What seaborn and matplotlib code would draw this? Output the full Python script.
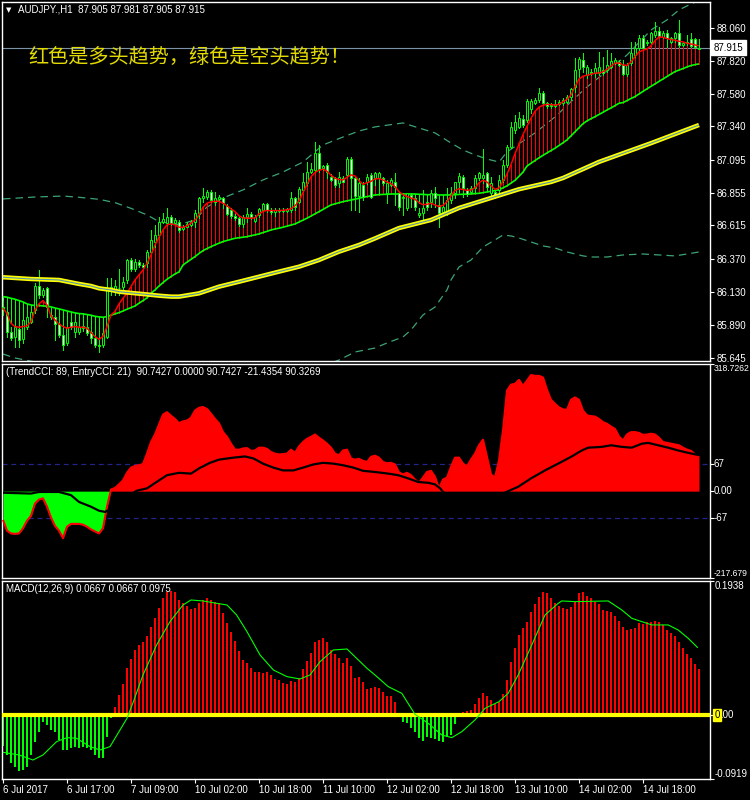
import numpy as np
import pandas as pd
import seaborn as sns
import matplotlib.pyplot as plt
from matplotlib.transforms import blended_transform_factory

# ---------------- AUDJPY H1 candles (bar 0 = 6 Jul 2017 01:00) ----------------
opens = [
    86.020, 85.985, 85.838, 85.802, 85.855, 85.782, 85.875, 85.911, 85.997, 86.172,
    86.107, 86.155, 85.960, 85.943, 85.894, 85.814, 85.753, 85.911, 85.838, 85.838,
    85.882, 85.875, 85.838, 85.789, 85.741, 85.741, 85.802, 86.143, 86.143, 86.160,
    86.168, 86.216, 86.363, 86.294, 86.350, 86.326, 86.338, 86.424, 86.497, 86.546,
    86.643, 86.636, 86.680, 86.631, 86.643, 86.587, 86.607, 86.619, 86.643, 86.704,
    86.814, 86.826, 86.863, 86.790, 86.810, 86.814, 86.760, 86.729, 86.685, 86.673,
    86.626, 86.675, 86.697, 86.651, 86.692, 86.729, 86.773, 86.729, 86.716, 86.720,
    86.729, 86.720, 86.729, 86.814, 86.790, 86.875, 86.924, 87.009, 87.021, 87.143,
    87.033, 87.058, 86.972, 86.960, 86.924, 86.965, 86.985, 87.099, 86.960, 86.830,
    86.911, 86.936, 86.984, 86.960, 86.960, 86.960, 86.850, 86.911, 86.936, 86.850,
    86.814, 86.740, 86.838, 86.814, 86.690, 86.704, 86.789, 86.789, 86.850, 86.765,
    86.716, 86.716, 86.801, 86.850, 86.936, 86.972, 86.875, 86.862, 86.887, 86.960,
    86.960, 86.997, 86.850, 86.862, 86.875, 86.948, 87.058, 87.192, 87.314, 87.338,
    87.392, 87.387, 87.470, 87.509, 87.534, 87.582, 87.509, 87.497, 87.490, 87.504,
    87.509, 87.521, 87.553, 87.631, 87.758, 87.826, 87.716, 87.741, 87.729, 87.729,
    87.753, 87.753, 87.773, 87.802, 87.814, 87.790, 87.724, 87.802, 87.863, 87.912,
    87.985, 87.948, 87.960, 88.009, 88.041, 87.997, 88.026, 87.960, 87.985, 88.021,
    87.936, 87.948, 87.977, 87.977, 87.905]
highs = [
    86.060, 85.997, 85.875, 85.899, 85.875, 85.948, 85.960, 86.000, 86.192, 86.289,
    86.160, 86.168, 85.990, 85.985, 85.924, 85.875, 85.899, 85.930, 85.924, 85.890,
    85.900, 85.890, 85.863, 85.800, 85.777, 85.863, 86.229, 86.229, 86.216, 86.294,
    86.241, 86.370, 86.380, 86.370, 86.360, 86.340, 86.436, 86.582, 86.619, 86.680,
    86.704, 86.741, 86.692, 86.670, 86.655, 86.620, 86.640, 86.655, 86.729, 86.826,
    86.887, 86.875, 86.875, 86.863, 86.840, 86.826, 86.770, 86.740, 86.700, 86.680,
    86.692, 86.741, 86.710, 86.690, 86.741, 86.780, 86.782, 86.740, 86.741, 86.740,
    86.740, 86.745, 86.863, 86.826, 86.899, 86.997, 87.082, 87.070, 87.229, 87.204,
    87.060, 87.070, 86.990, 86.972, 87.009, 86.980, 87.119, 87.119, 86.972, 86.960,
    86.930, 86.990, 86.997, 87.009, 87.009, 86.972, 86.948, 86.960, 86.997, 86.862,
    86.850, 86.850, 86.850, 86.838, 86.740, 86.875, 86.814, 86.875, 86.899, 86.814,
    86.777, 86.887, 86.899, 86.936, 86.997, 86.984, 86.887, 86.900, 86.984, 87.009,
    87.177, 87.009, 86.972, 86.875, 86.984, 87.094, 87.204, 87.375, 87.423, 87.448,
    87.423, 87.540, 87.540, 87.545, 87.619, 87.600, 87.521, 87.509, 87.534, 87.534,
    87.546, 87.570, 87.619, 87.838, 87.851, 87.875, 87.790, 87.760, 87.802, 87.887,
    87.851, 87.899, 87.875, 87.840, 87.826, 87.826, 87.800, 87.960, 87.960, 88.009,
    88.009, 87.970, 88.034, 88.107, 88.070, 88.035, 88.046, 87.995, 88.034, 88.119,
    87.960, 88.009, 88.026, 87.985, 87.981]
lows = [
    85.960, 85.802, 85.777, 85.728, 85.728, 85.753, 85.860, 85.900, 85.972, 86.082,
    86.090, 85.948, 85.930, 85.777, 85.802, 85.704, 85.741, 85.860, 85.802, 85.820,
    85.840, 85.810, 85.753, 85.728, 85.692, 85.728, 85.790, 86.107, 86.107, 86.107,
    86.143, 86.192, 86.280, 86.280, 86.310, 86.300, 86.314, 86.411, 86.460, 86.533,
    86.631, 86.619, 86.619, 86.620, 86.570, 86.580, 86.600, 86.610, 86.607, 86.668,
    86.790, 86.810, 86.790, 86.765, 86.800, 86.741, 86.690, 86.670, 86.655, 86.610,
    86.607, 86.643, 86.665, 86.640, 86.675, 86.720, 86.716, 86.700, 86.685, 86.710,
    86.710, 86.710, 86.716, 86.729, 86.778, 86.863, 86.912, 86.997, 87.009, 87.009,
    87.020, 86.960, 86.940, 86.899, 86.899, 86.930, 86.972, 86.729, 86.728, 86.716,
    86.800, 86.920, 86.814, 86.911, 86.850, 86.910, 86.777, 86.900, 86.765, 86.728,
    86.692, 86.728, 86.753, 86.728, 86.680, 86.643, 86.728, 86.753, 86.753, 86.606,
    86.704, 86.692, 86.777, 86.814, 86.862, 86.826, 86.830, 86.850, 86.862, 86.948,
    86.923, 86.875, 86.826, 86.814, 86.850, 86.936, 87.045, 87.180, 87.289, 87.326,
    87.338, 87.375, 87.440, 87.500, 87.521, 87.497, 87.473, 87.473, 87.480, 87.497,
    87.497, 87.509, 87.534, 87.594, 87.704, 87.741, 87.692, 87.716, 87.704, 87.716,
    87.716, 87.741, 87.765, 87.795, 87.780, 87.716, 87.710, 87.790, 87.851, 87.899,
    87.904, 87.935, 87.948, 87.997, 87.997, 87.990, 87.924, 87.950, 87.960, 87.924,
    87.930, 87.936, 87.919, 87.912, 87.905]
closes = [
    86.000, 85.838, 85.789, 85.875, 85.777, 85.924, 85.948, 85.985, 86.172, 86.107,
    86.143, 86.021, 85.948, 85.894, 85.814, 85.741, 85.875, 85.875, 85.911, 85.875,
    85.863, 85.826, 85.789, 85.741, 85.733, 85.826, 86.143, 86.168, 86.172, 86.155,
    86.204, 86.363, 86.294, 86.350, 86.326, 86.314, 86.424, 86.509, 86.546, 86.643,
    86.660, 86.680, 86.631, 86.655, 86.582, 86.607, 86.624, 86.643, 86.704, 86.814,
    86.831, 86.858, 86.802, 86.814, 86.821, 86.778, 86.700, 86.685, 86.668, 86.624,
    86.675, 86.699, 86.675, 86.675, 86.733, 86.773, 86.729, 86.716, 86.729, 86.729,
    86.720, 86.733, 86.814, 86.753, 86.880, 86.936, 87.009, 87.026, 87.143, 87.026,
    87.050, 87.009, 86.948, 86.912, 86.972, 86.936, 87.099, 86.960, 86.830, 86.923,
    86.826, 86.972, 86.826, 86.997, 86.997, 86.923, 86.923, 86.948, 86.899, 86.753,
    86.826, 86.850, 86.814, 86.753, 86.704, 86.740, 86.753, 86.850, 86.814, 86.704,
    86.753, 86.801, 86.850, 86.936, 86.977, 86.887, 86.845, 86.887, 86.960, 86.997,
    86.984, 86.899, 86.923, 86.826, 86.948, 87.058, 87.192, 87.338, 87.375, 87.399,
    87.350, 87.529, 87.525, 87.534, 87.582, 87.509, 87.490, 87.490, 87.504, 87.521,
    87.534, 87.553, 87.612, 87.753, 87.831, 87.773, 87.773, 87.729, 87.765, 87.773,
    87.729, 87.790, 87.819, 87.826, 87.790, 87.724, 87.790, 87.875, 87.912, 87.985,
    87.912, 87.960, 88.021, 88.041, 88.002, 88.026, 87.985, 87.985, 88.021, 87.936,
    87.948, 87.960, 87.929, 87.924, 87.915]

# fast (red) and slow (lime) moving averages, one value per bar
fast_ma = [
    86.009, 85.972, 85.899, 85.875, 85.870, 85.875, 85.880, 85.911, 85.997, 86.041,
    86.065, 86.033, 85.953, 85.924, 85.894, 85.875, 85.863, 85.870, 85.875, 85.870,
    85.870, 85.863, 85.831, 85.802, 85.782, 85.802, 85.875, 85.960, 85.985, 86.041,
    86.082, 86.119, 86.168, 86.216, 86.253, 86.289, 86.338, 86.399, 86.472, 86.528,
    86.582, 86.619, 86.626, 86.619, 86.602, 86.602, 86.612, 86.631, 86.655, 86.692,
    86.748, 86.778, 86.787, 86.792, 86.792, 86.778, 86.758, 86.736, 86.716, 86.685,
    86.670, 86.668, 86.668, 86.670, 86.699, 86.719, 86.724, 86.724, 86.724, 86.724,
    86.726, 86.729, 86.738, 86.758, 86.797, 86.855, 86.916, 86.972, 87.002, 87.019,
    87.026, 87.012, 86.982, 86.960, 86.951, 86.948, 86.968, 86.985, 86.977, 86.943,
    86.916, 86.928, 86.938, 86.955, 86.958, 86.948, 86.933, 86.921, 86.899, 86.862,
    86.840, 86.826, 86.816, 86.806, 86.782, 86.767, 86.770, 86.777, 86.765, 86.753,
    86.762, 86.789, 86.831, 86.870, 86.884, 86.877, 86.872, 86.875, 86.889, 86.928,
    86.945, 86.933, 86.904, 86.879, 86.889, 86.940, 86.990, 87.060, 87.140, 87.210,
    87.280, 87.340, 87.400, 87.450, 87.480, 87.495, 87.500, 87.500, 87.495, 87.500,
    87.520, 87.538, 87.570, 87.631, 87.687, 87.707, 87.714, 87.721, 87.729, 87.731,
    87.739, 87.758, 87.782, 87.802, 87.804, 87.790, 87.785, 87.812, 87.851, 87.885,
    87.897, 87.907, 87.929, 87.968, 87.994, 87.992, 87.982, 87.975, 87.970, 87.963,
    87.958, 87.948, 87.943, 87.936, 87.929]
slow_ma = [
    86.094, 86.090, 86.082, 86.075, 86.065, 86.055, 86.041, 86.033, 86.029, 86.029,
    86.026, 86.024, 86.019, 86.011, 86.004, 85.997, 85.989, 85.982, 85.975, 85.970,
    85.968, 85.963, 85.958, 85.950, 85.946, 85.943, 85.948, 85.958, 85.968, 85.977,
    85.989, 86.002, 86.014, 86.026, 86.046, 86.065, 86.085, 86.119, 86.143, 86.172,
    86.197, 86.221, 86.241, 86.260, 86.275, 86.326, 86.347, 86.367, 86.387, 86.410,
    86.431, 86.446, 86.460, 86.473, 86.485, 86.497, 86.505, 86.513, 86.521, 86.525,
    86.529, 86.533, 86.540, 86.546, 86.553, 86.563, 86.572, 86.582, 86.589, 86.595,
    86.602, 86.610, 86.618, 86.626, 86.640, 86.654, 86.668, 86.684, 86.700, 86.716,
    86.732, 86.749, 86.765, 86.773, 86.781, 86.789, 86.795, 86.801, 86.807, 86.814,
    86.821, 86.826, 86.832, 86.838, 86.840, 86.842, 86.843, 86.845, 86.845, 86.845,
    86.845, 86.845, 86.845, 86.845, 86.843, 86.842, 86.840, 86.840, 86.840, 86.838,
    86.838, 86.838, 86.838, 86.840, 86.842, 86.843, 86.845, 86.845, 86.848, 86.850,
    86.855, 86.860, 86.865, 86.870, 86.877, 86.890, 86.905, 86.925, 86.945, 86.975,
    87.005, 87.050, 87.070, 87.090, 87.110, 87.128, 87.146, 87.163, 87.180, 87.200,
    87.220, 87.241, 87.270, 87.300, 87.330, 87.360, 87.380, 87.396, 87.411, 87.427,
    87.443, 87.460, 87.475, 87.492, 87.509, 87.514, 87.529, 87.544, 87.558, 87.577,
    87.596, 87.615, 87.633, 87.651, 87.669, 87.687, 87.705, 87.723, 87.741, 87.752,
    87.763, 87.775, 87.785, 87.792, 87.797]

# long moving average (yellow) and band lines, read at the bars where they bend
long_ma_bars = [0, 7, 14, 19, 22, 24, 27, 29, 35, 39, 42, 44, 49, 54, 59, 64, 69, 74, 79,
                84, 89, 93, 99, 107, 114, 122, 129, 137, 140, 149, 162, 174]
long_ma_vals = [86.236, 86.223, 86.216, 86.187, 86.172, 86.155, 86.143, 86.130, 86.113,
                86.101, 86.094, 86.094, 86.118, 86.167, 86.203, 86.240, 86.277, 86.313,
                86.362, 86.423, 86.472, 86.520, 86.596, 86.655, 86.743, 86.816, 86.880,
                86.933, 86.962, 87.080, 87.217, 87.350]
upper_bars = [0, 8, 15, 19, 24, 28, 32, 36, 39, 44, 48, 51, 55, 60, 65, 70, 75, 80, 85,
              89, 93, 100, 104, 108, 112, 115, 118, 121, 124, 126, 133, 138, 143, 146,
              156, 162, 166, 169, 172, 174]
upper_vals = [86.809, 86.823, 86.830, 86.821, 86.806, 86.782, 86.740, 86.692, 86.643,
              86.620, 86.655, 86.750, 86.816, 86.875, 86.948, 87.006, 87.079, 87.204,
              87.262, 87.306, 87.336, 87.365, 87.328, 87.292, 87.218, 87.167, 87.131,
              87.101, 87.079, 87.153, 87.292, 87.409, 87.548, 87.628, 87.862, 88.045,
              88.119, 88.192, 88.236, 88.260]
lower_bars = [0, 3, 8, 20, 45, 70, 84, 88, 93, 96, 100, 102, 105, 108, 111, 112, 114, 117,
              120, 123, 125, 127, 129, 132, 135, 138, 141, 145, 147, 151, 155, 160, 164,
              168, 171, 174]
lower_vals = [85.674, 85.645, 85.616, 85.520, 85.410, 85.480, 85.630, 85.689, 85.718,
              85.755, 85.799, 85.850, 85.960, 86.018, 86.143, 86.216, 86.311, 86.362,
              86.457, 86.509, 86.545, 86.538, 86.523, 86.494, 86.465, 86.450, 86.421,
              86.392, 86.384, 86.384, 86.399, 86.406, 86.399, 86.392, 86.406, 86.421]

# ---------------- CCI sub-window ----------------
entry_cci = [
    -72, -99, -106, -107, -106, -93, -74, -62, -31, -21,
    -18, -39, -66, -87, -99, -118, -89, -82, -82, -82,
    -84, -89, -96, -101, -106, -93, -39, 4, 8, 17,
    27, 46, 59, 63, 65, 68, 94, 123, 142, 167,
    192, 198, 189, 181, 170, 175, 177, 184, 202, 209,
    211, 206, 194, 181, 170, 148, 136, 119, 104, 104,
    107, 108, 101, 102, 109, 109, 106, 98, 94, 92,
    93, 94, 104, 96, 112, 123, 131, 136, 142, 134,
    127, 119, 109, 94, 90, 102, 104, 82, 79, 81,
    76, 73, 86, 89, 84, 73, 70, 71, 67, 47,
    42, 46, 40, 29, 21, 34, 48, 51, 36, 7,
    29, 34, 61, 84, 84, 69, 62, 79, 94, 115,
    129, 86, 42, 34, 77, 152, 252, 267, 269, 279,
    264, 277, 291, 289, 289, 285, 254, 229, 219, 210,
    205, 204, 229, 235, 229, 202, 190, 188, 187, 181,
    173, 169, 162, 156, 137, 127, 142, 148, 148, 146,
    141, 142, 144, 142, 134, 123, 121, 119, 117, 115,
    109, 104, 101, 92, 89]
trend_cci_bars = [0, 7, 9, 14, 17, 19, 22, 24, 25.5, 28, 31, 33.4, 36, 38.4, 41, 44, 47, 49,
                  51.75, 54, 57.6, 60.5, 62.6, 65, 67.6, 70, 72.6, 75, 77.6, 80, 82.6, 85,
                  87.6, 90, 93, 96.3, 98.8, 101.3, 103.8, 106.3, 108, 109.3, 110, 114, 119,
                  123, 126.3, 128.8, 132, 135.5, 138.8, 142, 144.7, 146.3, 149.7, 152,
                  154.7, 157.2, 159.7, 161.3, 163.8, 166.3, 168.8, 171.3, 174]
trend_cci_vals = [-4, -6, -2, -2, -10, -27, -39, -49, -52, -40, -15, 1, 7, 23, 40, 46, 44, 57,
                  71, 79, 84, 87, 82, 69, 59, 52, 52, 59, 67, 71, 69, 65, 59, 51, 48, 44, 40,
                  32, 23, 21, 17, 7, -2, -25, -30, -15, 0, 11, 32, 52, 69, 86, 102, 109, 111,
                  115, 111, 109, 119, 121, 115, 109, 102, 96, 90.3]

# ---------------- MACD sub-window ----------------
macd_hist = [
    -0.0438, -0.0572, -0.0693, -0.0741, -0.0803, -0.0789, -0.0741, -0.0572, -0.0380, -0.0236,
    -0.0101, -0.0139, -0.0212, -0.0236, -0.0356, -0.0500, -0.0500, -0.0476, -0.0452, -0.0467,
    -0.0452, -0.0476, -0.0500, -0.0572, -0.0620, -0.0620, -0.0308, -0.0043, 0.0125, 0.0293,
    0.0447, 0.0678, 0.0813, 0.0943, 0.1015, 0.1063, 0.1150, 0.1279, 0.1400, 0.1554,
    0.1688, 0.1775, 0.1794, 0.1775, 0.1664, 0.1616, 0.1582, 0.1534, 0.1554, 0.1616,
    0.1664, 0.1698, 0.1664, 0.1640, 0.1616, 0.1472, 0.1328, 0.1207, 0.1073, 0.0928,
    0.0798, 0.0750, 0.0688, 0.0620, 0.0620, 0.0606, 0.0630, 0.0582, 0.0524, 0.0510,
    0.0462, 0.0447, 0.0495, 0.0486, 0.0534, 0.0669, 0.0784, 0.0895, 0.1063, 0.1087,
    0.1111, 0.1053, 0.0943, 0.0880, 0.0823, 0.0750, 0.0832, 0.0717, 0.0544, 0.0558,
    0.0486, 0.0380, 0.0390, 0.0414, 0.0399, 0.0332, 0.0284, 0.0284, 0.0188, 0.0038,
    -0.0101, -0.0115, -0.0188, -0.0245, -0.0332, -0.0370, -0.0308, -0.0332, -0.0342, -0.0370,
    -0.0380, -0.0308, -0.0284, -0.0130, 0.0000, 0.0053, 0.0063, 0.0077, 0.0159, 0.0245,
    0.0317, 0.0284, 0.0221, 0.0159, 0.0197, 0.0303, 0.0510, 0.0765, 0.0967, 0.1159,
    0.1255, 0.1352, 0.1496, 0.1602, 0.1708, 0.1775, 0.1760, 0.1698, 0.1616, 0.1582,
    0.1544, 0.1534, 0.1568, 0.1631, 0.1760, 0.1785, 0.1727, 0.1688, 0.1631, 0.1602,
    0.1520, 0.1506, 0.1496, 0.1438, 0.1361, 0.1279, 0.1231, 0.1246, 0.1265, 0.1328,
    0.1313, 0.1342, 0.1352, 0.1361, 0.1352, 0.1304, 0.1231, 0.1183, 0.1150, 0.1053,
    0.0967, 0.0880, 0.0823, 0.0736, 0.0669]
signal_bars = [0, 4, 7.5, 10, 13.4, 16, 18.4, 21.75, 24.25, 26.75, 31, 32.6, 35, 38.4, 41.75,
               45, 47, 50, 53.4, 56, 58.4, 61, 64.25, 67.6, 71, 74.25, 76.75, 79.25, 82.6, 86,
               88.4, 91, 93, 96.3, 99.7, 103, 106.3, 109.7, 112.2, 114.7, 118, 120.5, 124,
               126.3, 128.8, 132.2, 135.5, 138.8, 139.7, 143, 151.3, 154.7, 157.2, 159.7,
               162.2, 166.3, 168.8, 171.3, 173.7]
signal_vals = [-0.0534, -0.0572, -0.0645, -0.0572, -0.0380, -0.0322, -0.0332, -0.0452, -0.0500,
               -0.0452, -0.0043, 0.0197, 0.0582, 0.1015, 0.1352, 0.1592, 0.1664, 0.1650, 0.1616,
               0.1592, 0.1448, 0.1207, 0.0871, 0.0654, 0.0558, 0.0524, 0.0582, 0.0774, 0.0943,
               0.0957, 0.0823, 0.0678, 0.0582, 0.0414, 0.0317, 0.0014, -0.0115, -0.0284,
               -0.0322, -0.0236, -0.0067, 0.0101, 0.0197, 0.0317, 0.0582, 0.1015, 0.1448,
               0.1616, 0.1650, 0.1640, 0.1650, 0.1520, 0.1400, 0.1352, 0.1304, 0.1304, 0.1231,
               0.1111, 0.0975]

# ---------------- axis labels ----------------
date_bars = [0, 16, 32, 48, 64, 80, 96, 112, 128, 144, 160]
date_labels = ["6 Jul 2017", "6 Jul 17:00", "7 Jul 09:00", "10 Jul 02:00", "10 Jul 18:00",
               "11 Jul 10:00", "12 Jul 02:00", "12 Jul 18:00", "13 Jul 10:00",
               "14 Jul 02:00", "14 Jul 18:00"]
price_ticks = [88.060, 87.820, 87.580, 87.340, 87.095, 86.855, 86.615, 86.370, 86.130,
               85.890, 85.645]
price_labels = ["88.060", "87.820", "87.580", "87.340", "87.095", "86.855", "86.615",
                "86.370", "86.130", "85.890", "85.645"]
cci_limits = (-217.679, 318.7262)
macd_limits = (-0.0919, 0.1938)

# ---------------- style ----------------
sns.set_style("dark", {"axes.facecolor": "black", "figure.facecolor": "black",
                       "axes.edgecolor": "white"})
plt.rcParams['font.family'] = ['Liberation Sans', 'DejaVu Sans']
plt.rcParams['lines.solid_capstyle'] = 'butt'

LIME = '#00FF00'
RED = '#FF0000'
BAND = '#3CA374'

W, H = 750, 800
fig = plt.figure(figsize=(7.5, 8), dpi=100, facecolor='black')


def box(left, top, right, bottom):
    return [left / W, 1 - bottom / H, (right - left) / W, (bottom - top) / H]


ax_p = fig.add_axes(box(2, 2, 710, 361))
ax_c = fig.add_axes(box(2, 364, 710, 578))
ax_m = fig.add_axes(box(2, 581, 710, 779))

n = len(closes)
x = np.arange(n)
for ax in (ax_p, ax_c, ax_m):
    ax.set_facecolor('black')
    ax.grid(False)
    ax.set_xlim(-0.25, 176.75)
    for s in ax.spines.values():
        s.set_color('white')
        s.set_linewidth(1.0)
    ax.yaxis.tick_right()
    ax.tick_params(axis='y', colors='white', labelsize=7, length=3, width=0.8,
                   pad=2, direction='out', left=False, right=True)
    ax.tick_params(axis='x', bottom=False, labelbottom=False)

# ---------------- price panel ----------------
df = pd.DataFrame({"bar": x, "open": opens, "high": highs, "low": lows, "close": closes,
                   "fast": fast_ma, "slow": slow_ma})
ax_p.set_ylim(85.623, 88.250)
ax_p.set_yticks(price_ticks)
ax_p.set_yticklabels(price_labels)

sns.lineplot(x=upper_bars, y=upper_vals, ax=ax_p, color=BAND, lw=0.9,
             linestyle=(0, (6, 4)), estimator=None, legend=False, zorder=1)
sns.lineplot(x=lower_bars, y=lower_vals, ax=ax_p, color=BAND, lw=0.9,
             linestyle=(0, (6, 4)), estimator=None, legend=False, zorder=1)
ax_p.axhline(closes[-1], color='#7C92A6', lw=0.8, zorder=1.5)

hist_col = np.where(df.fast >= df.slow, RED, LIME)
ax_p.vlines(df.bar, df.slow, df.fast, colors=hist_col, lw=0.55, antialiased=False, zorder=2)
sns.lineplot(data=df, x="bar", y="slow", ax=ax_p, color=LIME, lw=1.2,
             estimator=None, legend=False, zorder=3)

body_lo = np.minimum(df.open, df.close)
body_hi = np.maximum(df.open, df.close)
body_h = np.maximum(body_hi - body_lo, 0.003)
ax_p.vlines(df.bar, np.minimum(df.low, body_lo), np.maximum(df.high, body_hi),
            colors=LIME, lw=0.55, antialiased=False, zorder=4)
ax_p.bar(df.bar, body_h, bottom=body_lo, width=0.55,
         color=np.where(df.close >= df.open, 'black', 'white'),
         edgecolor=LIME, linewidth=0.7, zorder=5)

sns.lineplot(data=df, x="bar", y="fast", ax=ax_p, color=RED, lw=1.1,
             estimator=None, legend=False, zorder=6)
sns.lineplot(x=long_ma_bars, y=long_ma_vals, ax=ax_p, color='#FFFF00', lw=3.2,
             estimator=None, legend=False, zorder=7)
sns.lineplot(x=long_ma_bars, y=long_ma_vals, ax=ax_p, color='#5A96A5', lw=0.8,
             estimator=None, legend=False, zorder=8)
ax_p.set_xlabel("")
ax_p.set_ylabel("")

tr_p = blended_transform_factory(ax_p.transAxes, ax_p.transData)
ax_p.text(1.005, closes[-1], "87.915", transform=tr_p, color='black', fontsize=7,
          va='center', ha='left', clip_on=False,
          bbox=dict(boxstyle='square,pad=0.25', fc='white', ec='white'), zorder=10)

# ---------------- CCI panel ----------------
cci = np.array(entry_cci, dtype=float)
ax_c.set_ylim(*cci_limits)
for lvl in (67, -67):
    ax_c.axhline(lvl, color='#23238C', lw=0.9, ls=(0, (4, 3)), zorder=1)
ax_c.fill_between(x, 0, cci, where=cci >= 0, interpolate=True, color=RED, lw=0, zorder=2)
ax_c.fill_between(x, 0, cci, where=cci <= 0, interpolate=True, color=LIME, lw=0, zorder=2)
ax_c.plot(x, cci, color=RED, lw=1.5, zorder=3)
sns.lineplot(x=trend_cci_bars, y=trend_cci_vals, ax=ax_c, color='black', lw=1.6,
             estimator=None, legend=False, zorder=4)
ax_c.set_xlabel("")
ax_c.set_ylabel("")
ax_c.set_yticks([cci_limits[1], 67, 0, -67, cci_limits[0]])
ax_c.set_yticklabels([])

tr_c = blended_transform_factory(ax_c.transAxes, ax_c.transData)
for val, txt, va, fs in [(cci_limits[1], "318.7262", 'top', 6.2), (67, "67", 'center', 7),
                         (0, "0.00", 'center', 7), (-67, "-67", 'center', 7),
                         (cci_limits[0], "-217.679", 'bottom', 6.2)]:
    ax_c.text(1.005, val, txt, transform=tr_c, color='white', fontsize=fs, va=va,
              ha='left', clip_on=False)

# ---------------- MACD panel ----------------
hist = np.array(macd_hist)
ax_m.set_ylim(*macd_limits)
ax_m.bar(x, hist, width=0.68, color=np.where(hist >= 0, RED, LIME), lw=0,
         antialiased=False, zorder=2)
ax_m.axhline(0, color='#FFFF00', lw=3.0, zorder=3)
sns.lineplot(x=signal_bars, y=signal_vals, ax=ax_m, color=LIME, lw=0.8,
             estimator=None, legend=False, zorder=4)
ax_m.set_xlabel("")
ax_m.set_ylabel("")
ax_m.set_yticks([macd_limits[1], 0, macd_limits[0]])
ax_m.set_yticklabels([])
ax_m.set_xticks(date_bars)
ax_m.set_xticklabels(date_labels, ha='left')
ax_m.tick_params(axis='x', bottom=True, labelbottom=True, colors='white', labelsize=7,
                 length=3, width=0.8, pad=1.5, direction='out')

tr_m = blended_transform_factory(ax_m.transAxes, ax_m.transData)
ax_m.text(1.006, macd_limits[1], "0.1938", transform=tr_m, color='white', fontsize=7,
          va='top', ha='left', clip_on=False)
ax_m.text(1.006, macd_limits[0], "-0.0919", transform=tr_m, color='white', fontsize=7,
          va='bottom', ha='left', clip_on=False)
ax_m.text(1.006, 0, "0", transform=tr_m, color='black', fontsize=7, va='center',
          ha='left', clip_on=False,
          bbox=dict(boxstyle='square,pad=0.1', fc='#FFFF00', ec='#FFFF00'))
ax_m.text(1.006 + 5.6 / 708, 0, ".00", transform=tr_m, color='white', fontsize=7,
          va='center', ha='left', clip_on=False)

# ---------------- titles ----------------
fig.text(6 / W, 1 - 10 / H, "\u25BC", color='white', fontsize=5, va='center', ha='left',
         family=['DejaVu Sans'])
fig.text(18 / W, 1 - 10 / H, "AUDJPY.,H1  87.905 87.981 87.905 87.915", color='white',
         fontsize=7, va='center', ha='left')
fig.text(28 / W, 1 - 58 / H, "红色是多头趋势，绿色是空头趋势！", color='#E2DA00',
         fontsize=14.5, va='center', ha='left', family=['Noto Sans CJK SC', 'DejaVu Sans'])
fig.text(6 / W, 1 - 372 / H,
         "(TrendCCI: 89, EntryCCI: 21)  90.7427 0.0000 90.7427 -21.4354 90.3269",
         color='white', fontsize=7, va='center', ha='left')
fig.text(6 / W, 1 - 589 / H, "MACD(12,26,9) 0.0667 0.0667 0.0975", color='white',
         fontsize=7, va='center', ha='left')

fig.savefig("out.png", dpi=100, facecolor='black')
plt.close(fig)
